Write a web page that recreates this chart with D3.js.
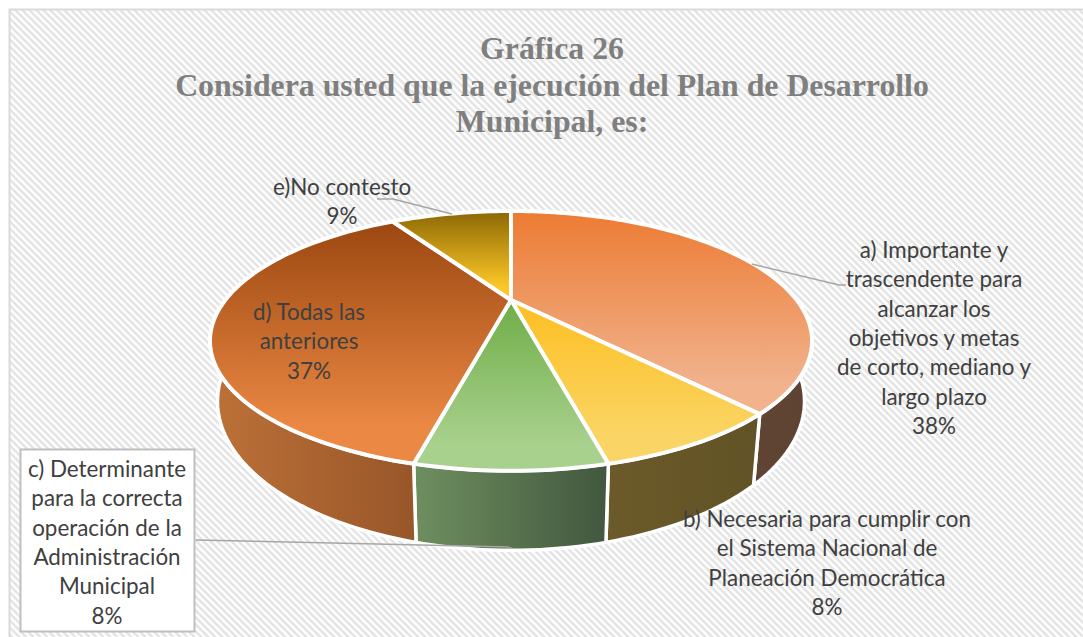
<!DOCTYPE html>
<html>
<head>
<meta charset="utf-8">
<script src="https://cdn.jsdelivr.net/npm/d3@7"></script>
<style>
  html, body { margin: 0; padding: 0; background: #fff; }
  svg { display: block; }
</style>
</head>
<body>
<div id="chart"></div>
<script>
// Shares, they round to the printed labels
const categories = ['a', 'b', 'c', 'd', 'e']
const values = [38.4, 7.8, 7.6, 37.4, 8.8]
const labelLines = [
  ['a) Importante y', 'trascendente para', 'alcanzar los', 'objetivos y metas', 'de corto, mediano y', 'largo plazo'],
  ['b) Necesaria para cumplir con', 'el Sistema Nacional de', 'Planeación Democrática'],
  ['c) Determinante', 'para la correcta', 'operación de la', 'Administración', 'Municipal'],
  ['d) Todas las', 'anteriores'],
  ['e)No contesto']
]
const titleLines = ['Gráfica 26', 'Considera usted que la ejecución del Plan de Desarrollo', 'Municipal, es:']

// Colours per slice: top face (far -> near), wall (left -> right)
const topColors = [['#ec7b33', '#f1b28c'], ['#fdbf22', '#fad565'], ['#6fad47', '#a9d18e'], ['#9b4710', '#eb8844'], ['#8c6805', '#fcc726']]
const wallColors = [['#664836', '#5e4333'], ['#6c5a29', '#615326'], ['#6e8f60', '#42573e'], ['#bd7138', '#985629'], ['#806000', '#806000']]

const width = 1083, height = 637

// Label placement, in the same order as categories
const labelX = [934, 827, 107, 309, 342]
const labelY = [251, 520, 470, 313, 188]
const lineGap = 29.3

// Tilted disc with perspective
const cx = 511, cy = 300
const radiusX = 285.7, radiusY = 117, persp = 0.315
const wallDepth = 54.5, bottomShrink = 0.975

const project = (angle, r, depth) => {
  const u = Math.sin(angle) * r
  const v = -Math.cos(angle) * r
  const w = 1 - persp * v
  const shrink = depth ? bottomShrink : 1
  return [cx + shrink * radiusX * u / w, cy + radiusY * v / w + (depth ? wallDepth / w : 0)]
}

const svg = d3.select('#chart')
  .append('svg')
  .attr('width', width)
  .attr('height', height)

const defs = svg.append('defs')

// Striped chart background
const pattern = defs.append('pattern')
  .attr('id', 'stripes')
  .attr('width', 7)
  .attr('height', 7)
  .attr('patternUnits', 'userSpaceOnUse')
  .attr('patternTransform', 'rotate(45) scale(0.7071)')
pattern.append('rect').attr('width', 7).attr('height', 7).attr('fill', '#fff')
pattern.append('rect').attr('width', 7).attr('height', 3.5).attr('fill', '#e3e3e3')

svg.append('rect')
  .attr('x', 10).attr('y', 10)
  .attr('width', width - 10).attr('height', height - 10)
  .attr('fill', 'url(#stripes)')
svg.append('path')
  .attr('d', `M9.5,${height}V9.5H${width}`)
  .attr('fill', 'none')
  .attr('stroke', '#d9d9d9')
  .attr('stroke-width', 2)

// Gradients
categories.forEach((c, i) => {
  const top = defs.append('linearGradient').attr('id', 'top-' + c)
    .attr('x1', 0).attr('y1', 0).attr('x2', 0).attr('y2', 1)
  top.append('stop').attr('offset', 0).attr('stop-color', topColors[i][0])
  top.append('stop').attr('offset', 0.85).attr('stop-color', topColors[i][1])
  const wall = defs.append('linearGradient').attr('id', 'wall-' + c)
    .attr('x1', 0).attr('y1', 0).attr('x2', 1).attr('y2', 0)
  wall.append('stop').attr('offset', 0).attr('stop-color', wallColors[i][0])
  wall.append('stop').attr('offset', 1).attr('stop-color', wallColors[i][1])
})

const arcs = d3.pie().sort(null)(values)
const line = d3.line()

const ringPoints = (d, r, depth) => {
  const steps = Math.max(4, Math.ceil((d.endAngle - d.startAngle) * 40))
  return d3.range(steps + 1).map(s => {
    const a = d.startAngle + (d.endAngle - d.startAngle) * s / steps
    return project(a, r, depth)
  })
}

// Walls first, the top faces cover what is hidden
svg.selectAll('path.wall')
  .data(arcs)
  .enter()
  .append('path')
  .attr('class', 'wall')
  .attr('d', d => line(ringPoints(d, 1, false).concat(ringPoints(d, 1, true).reverse())) + 'Z')
  .attr('fill', (d, i) => `url(#wall-${categories[i]})`)
  .attr('stroke', '#fff')
  .attr('stroke-width', 3.5)
  .attr('stroke-linejoin', 'round')

svg.selectAll('path.face')
  .data(arcs)
  .enter()
  .append('path')
  .attr('class', 'face')
  .attr('d', d => line([project(0, 0, false)].concat(ringPoints(d, 1, false))) + 'Z')
  .attr('fill', (d, i) => `url(#top-${categories[i]})`)
  .attr('stroke', '#fff')
  .attr('stroke-width', 4)
  .attr('stroke-linejoin', 'round')

// Box behind label c
svg.append('rect')
  .attr('x', 20.5).attr('y', 449.5)
  .attr('width', 174).attr('height', 182)
  .attr('fill', '#fff')
  .attr('stroke', '#bfbfbf')
  .attr('stroke-width', 2)

// Leader lines
const leaders = [
  [[752, 264], [839, 285], [846, 285]],
  [[196, 540], [512, 547]],
  [[377, 199], [393, 199], [452, 214]]
]
svg.selectAll('path.leader')
  .data(leaders)
  .enter()
  .append('path')
  .attr('class', 'leader')
  .attr('d', d => line(d))
  .attr('fill', 'none')
  .attr('stroke', '#a6a6a6')
  .attr('stroke-width', 1.5)

// Title
svg.selectAll('text.title')
  .data(titleLines)
  .enter()
  .append('text')
  .attr('class', 'title')
  .attr('x', 552)
  .attr('y', (d, i) => 59 + i * 36.5)
  .attr('text-anchor', 'middle')
  .style('font-family', '"Liberation Serif", serif')
  .style('font-weight', 'bold')
  .style('font-size', '31.8px')
  .attr('fill', '#7f7f7f')
  .text(d => d)

// Data labels
const labels = svg.selectAll('g.label')
  .data(arcs)
  .enter()
  .append('g')
  .attr('class', 'label')
  .attr('transform', (d, i) => `translate(${labelX[i]},${labelY[i]})`)

labels.selectAll('text')
  .data(d => labelLines[d.index].concat(d3.format('.0f')(d.value) + '%'))
  .enter()
  .append('text')
  .attr('y', (d, i) => i * lineGap + 7)
  .attr('text-anchor', 'middle')
  .style('font-family', 'Lato, sans-serif')
  .style('font-size', '22.4px')
  .attr('fill', '#404040')
  .text(d => d)
</script>
</body>
</html>
